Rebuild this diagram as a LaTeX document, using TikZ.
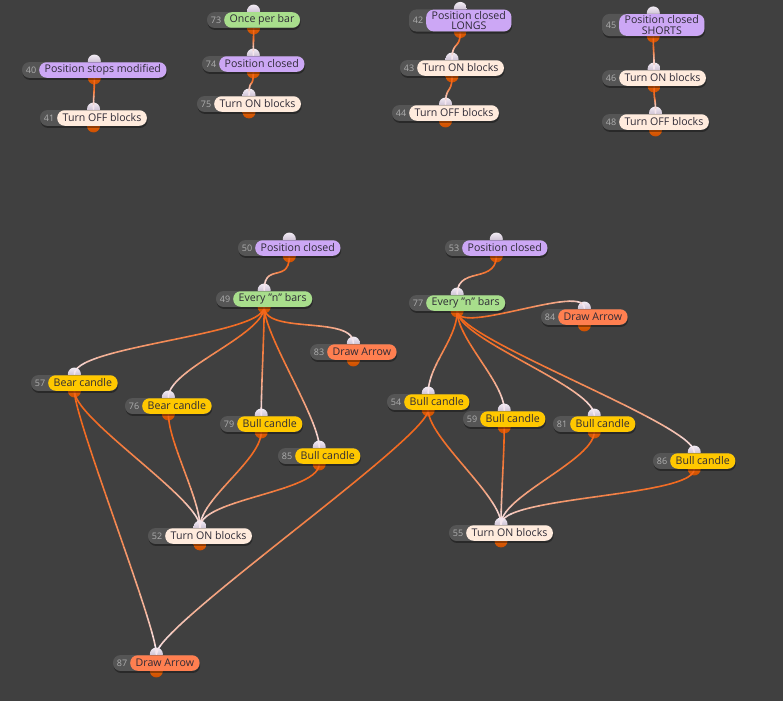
\documentclass[tikz,border=0pt]{standalone}
\usepackage{fontspec}
\setmainfont{Open Sans}[Ligatures=ResetAll]
\usetikzlibrary{calc}
\definecolor{bg}{HTML}{404040}
\definecolor{numgray}{HTML}{555555}
\definecolor{numtxt}{HTML}{AFAFAF}
\definecolor{txt}{HTML}{2E2A36}
\definecolor{cgreen}{HTML}{A8DE8C}
\definecolor{cpurple}{HTML}{CCA7F5}
\definecolor{ccream}{HTML}{FFEBDD}
\definecolor{cyellow}{HTML}{FFC800}
\definecolor{ccoral}{HTML}{FF7F50}
\definecolor{pinInA}{HTML}{F2ECF4}
\definecolor{pinInB}{HTML}{B4A4BE}
\definecolor{pinOutA}{HTML}{F07010}
\definecolor{pinOutB}{HTML}{CC4E00}
\definecolor{pinYA}{HTML}{EEC600}
\definecolor{pinYB}{HTML}{C49C00}
\definecolor{wireA}{HTML}{F2661A}
\definecolor{wireB}{HTML}{F6E6EE}
\pgfdeclarelayer{bglayer}
\pgfdeclarelayer{pins}
\pgfdeclarelayer{wires}
\pgfdeclarelayer{under}
\pgfsetlayers{bglayer,pins,wires,under,main}
\tikzset{
  pill/.style={rounded corners=7.5pt, minimum height=15.5pt, inner xsep=5.5pt, inner ysep=1.5pt,
    font=\fontsize{10.6}{10.6}\selectfont, text=txt, align=center},
  numlbl/.style={font=\fontsize{9}{9}\selectfont, text=numtxt, inner sep=0pt},
}
% #1 yellow flag (1/0), #2 name, #3 left x, #4 center y, #5 number, #6 colour, #7 label
\newcommand\gn[7]{%
  \node[pill, fill=#6, anchor=west] (#2) at (#3+17,#4) {#7};
  \coordinate (#2-L) at (#3,#4);
  \path ($(#2-L)!0.5!(#2.east)$) coordinate (#2-c);
  \path (#2-c |- #2.north) ++(0,-1) coordinate (#2-in);
  \path (#2-c |- #2.south) coordinate (#2-out);
  \path ($(#2-L)!0.75!(#2.east)$ |- #2.south) coordinate (#2-y);
  \begin{pgfonlayer}{under}
    \fill[black, opacity=.35, rounded corners=7.5pt] ($(#2-L |- #2.north)+(0.5,2)$) rectangle ($(#2.south east)+(0.5,2)$);
    \fill[numgray, rounded corners=7.5pt] (#2-L |- #2.north) rectangle (#2.south east);
    \node[numlbl] (#2-num) at ($(#2-L)+(9,0)$) {#5};
  \end{pgfonlayer}
  \begin{pgfonlayer}{pins}
    \shade[top color=pinInA, bottom color=pinInB] (#2-in) circle (6.5);
    \shade[top color=pinOutA, bottom color=pinOutB] (#2-out) circle (6.5);
    \ifnum#1=1 \shade[top color=pinYA, bottom color=pinYB] (#2-y) circle (6.5);\fi
  \end{pgfonlayer}
}
% #1 control distance, #2 from, #3 to
\newcommand\wire[3][28]{%
  \begin{pgfonlayer}{wires}
  \foreach \i in {0,...,13}{%
    \pgfmathsetmacro\ta{\i/14}%
    \pgfmathsetmacro\tb{(\i+1)/14}%
    \pgfmathtruncatemacro\pc{round(100*(1-(\i/13)*(\i/13)))}%
    \colorlet{wcol}{wireA!\pc!wireB}%
    \begin{pgfscope}
    \pgfsetstrokecolor{wcol}%
    \pgfsetlinewidth{1.6pt}%
    \pgfsetroundcap
    \pgfpathcurvebetweentime{\ta}{\tb}%
      {\pgfpointanchor{#2}{center}}%
      {\pgfpointadd{\pgfpointanchor{#2}{center}}{\pgfpoint{0pt}{-#1pt}}}%
      {\pgfpointadd{\pgfpointanchor{#3}{center}}{\pgfpoint{0pt}{#1pt}}}%
      {\pgfpointanchor{#3}{center}}%
    \pgfusepath{stroke}%
    \end{pgfscope}
  }%
  \end{pgfonlayer}
}
\begin{document}
\begin{tikzpicture}[x=1pt,y=-1pt]
\begin{pgfonlayer}{bglayer}
  \fill[bg] (0,0) rectangle (783,701);
\end{pgfonlayer}
\useasboundingbox (0,0) rectangle (783,701);

% top row
\gn{1}{n73}{207}{20}{73}{cgreen}{Once per bar}
\gn{1}{n74}{202}{64}{74}{cpurple}{Position closed}
\gn{0}{n75}{197}{104}{75}{ccream}{Turn ON blocks}
\gn{1}{n40}{22}{70}{40}{cpurple}{Position stops modified}
\gn{0}{n41}{40}{118}{41}{ccream}{Turn OFF blocks}
\gn{1}{n42}{409}{20.5}{42}{cpurple}{Position closed\\LONGS}
\gn{0}{n43}{400}{68}{43}{ccream}{Turn ON blocks}
\gn{0}{n44}{392}{113}{44}{ccream}{Turn OFF blocks}
\gn{1}{n45}{602}{25}{45}{cpurple}{Position closed\\SHORTS}
\gn{0}{n46}{602}{78}{46}{ccream}{Turn ON blocks}
\gn{0}{n48}{602}{122}{48}{ccream}{Turn OFF blocks}

% left group
\gn{1}{n50}{238}{248}{50}{cpurple}{Position closed}
\gn{1}{n49}{216}{299}{49}{cgreen}{Every "n" bars}
\gn{0}{n83}{310}{352}{83}{ccoral}{Draw Arrow}
\gn{1}{n57}{31}{383}{57}{cyellow}{Bear candle}
\gn{1}{n76}{125}{406}{76}{cyellow}{Bear candle}
\gn{1}{n79}{220}{424}{79}{cyellow}{Bull candle}
\gn{1}{n85}{278}{456}{85}{cyellow}{Bull candle}
\gn{0}{n52}{148}{536}{52}{ccream}{Turn ON blocks}
\gn{0}{n87}{113}{663}{87}{ccoral}{Draw Arrow}

% right group
\gn{1}{n53}{445}{248}{53}{cpurple}{Position closed}
\gn{1}{n77}{409}{303}{77}{cgreen}{Every "n" bars}
\gn{0}{n84}{541}{317}{84}{ccoral}{Draw Arrow}
\gn{1}{n54}{387}{402}{54}{cyellow}{Bull candle}
\gn{1}{n59}{463}{419}{59}{cyellow}{Bull candle}
\gn{1}{n81}{553}{424}{81}{cyellow}{Bull candle}
\gn{1}{n86}{653}{461}{86}{cyellow}{Bull candle}
\gn{0}{n55}{449}{533}{55}{ccream}{Turn ON blocks}

% wires
\wire[18]{n73-out}{n74-in}
\wire[18]{n74-out}{n75-in}
\wire[18]{n40-out}{n41-in}
\wire[18]{n42-out}{n43-in}
\wire[18]{n43-out}{n44-in}
\wire[18]{n45-out}{n46-in}
\wire[18]{n46-out}{n48-in}
\wire{n50-out}{n49-in}
\wire{n53-out}{n77-in}
\wire{n49-out}{n57-in}
\wire{n49-out}{n76-in}
\wire{n49-out}{n79-in}
\wire{n49-out}{n85-in}
\wire{n49-out}{n83-in}
\wire[25]{n77-out}{n84-in}
\wire{n77-out}{n54-in}
\wire{n77-out}{n59-in}
\wire{n77-out}{n81-in}
\wire{n77-out}{n86-in}
\wire{n57-out}{n52-in}
\wire{n76-out}{n52-in}
\wire{n79-out}{n52-in}
\wire{n85-out}{n52-in}
\wire{n57-out}{n87-in}
\wire{n54-out}{n87-in}
\wire{n54-out}{n55-in}
\wire{n59-out}{n55-in}
\wire{n81-out}{n55-in}
\wire{n86-out}{n55-in}
\end{tikzpicture}
\end{document}
